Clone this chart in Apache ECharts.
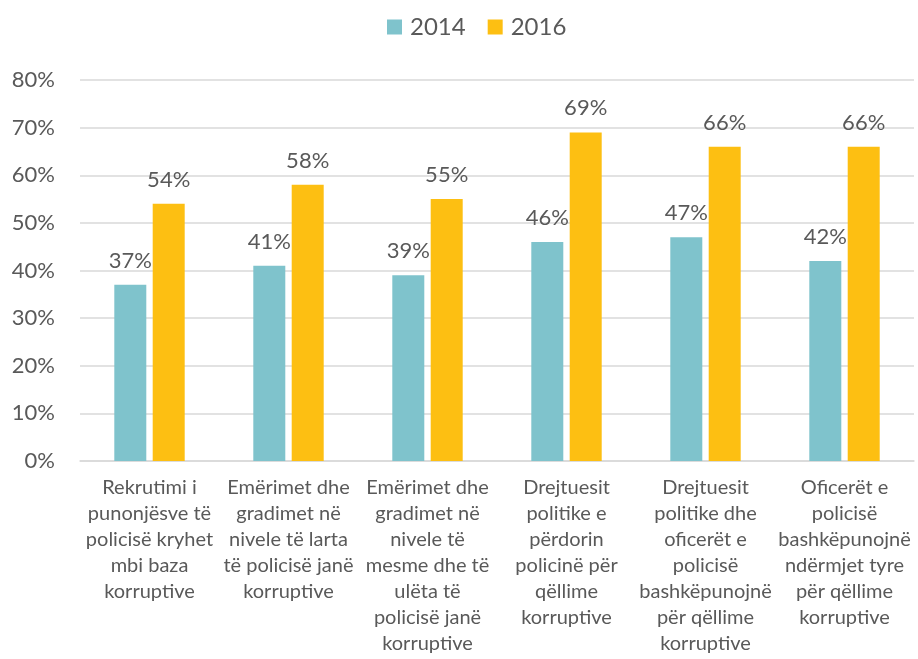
<!DOCTYPE html>
<html>
<head>
<meta charset="utf-8">
<script src="https://cdn.jsdelivr.net/npm/echarts@6/dist/echarts.min.js"></script>
<style>
	html, body { margin: 0; padding: 0; background: #fff; }
	#chart { width: 918px; height: 659px; }
</style>
</head>
<body>
<div id="chart"></div>
<script>
	// kategoritë (me ndarje rreshtash si në origjinal)
	var categories = [
		'Rekrutimi i\npunonjësve të\npolicisë kryhet\nmbi baza\nkorruptive',
		'Emërimet dhe\ngradimet në\nnivele të larta\ntë policisë janë\nkorruptive',
		'Emërimet dhe\ngradimet në\nnivele të\nmesme dhe të\nulëta të\npolicisë janë\nkorruptive',
		'Drejtuesit\npolitike e\npërdorin\npolicinë për\nqëllime\nkorruptive',
		'Drejtuesit\npolitike dhe\noficerët e\npolicisë\nbashkëpunojnë\npër qëllime\nkorruptive',
		'Oficerët e\npolicisë\nbashkëpunojnë\nndërmjet tyre\npër qëllime\nkorruptive'
	]
	var data2014 = [37, 41, 39, 46, 47, 42]
	var data2016 = [54, 58, 55, 69, 66, 66]

	var font = 'Lato, "Open Sans", sans-serif'
	var textColor = '#595959'

	var myChart = echarts.init(document.getElementById('chart'))
	var option = {
		textStyle: { fontFamily: font },
		color: ['#7fc3cc', '#fdbf12'],
		legend: {
			top: 10,
			left: 382,
			itemWidth: 15,
			itemHeight: 15,
			itemGap: 22,
			icon: 'rect',
			textStyle: { color: textColor, fontSize: 24, fontFamily: font, padding: [0, 0, 0, 3] },
			data: ['2014', '2016']
		},
		grid: {
			left: 80,
			right: 4,
			top: 80,
			bottom: 198
		},
		xAxis: {
			type: 'category',
			data: categories,
			axisLine: { lineStyle: { color: '#d9d9d9', width: 1.5 } },
			axisTick: { show: false },
			axisLabel: {
				color: textColor,
				fontSize: 20,
				lineHeight: 26,
				margin: 14,
				interval: 0,
				fontFamily: font
			}
		},
		yAxis: {
			type: 'value',
			min: 0,
			max: 80,
			interval: 10,
			axisLine: { show: false },
			axisTick: { show: false },
			splitLine: { lineStyle: { color: '#d9d9d9', width: 1.5 } },
			axisLabel: {
				formatter: '{value}%',
				color: textColor,
				fontSize: 22,
				margin: 25,
				fontFamily: font
			}
		},
		series: [{
			name: '2014',
			type: 'bar',
			data: data2014,
			barWidth: 32,
			barGap: '20%',
			label: {
				show: true,
				position: 'top',
				distance: 13,
				formatter: '{c}%',
				color: textColor,
				fontSize: 22,
				fontFamily: font
			}
		}, {
			name: '2016',
			type: 'bar',
			data: data2016,
			barWidth: 32,
			barGap: '20%',
			label: {
				show: true,
				position: 'top',
				distance: 13,
				formatter: '{c}%',
				color: textColor,
				fontSize: 22,
				fontFamily: font
			}
		}]
	}
	myChart.setOption(option)
</script>
</body>
</html>
